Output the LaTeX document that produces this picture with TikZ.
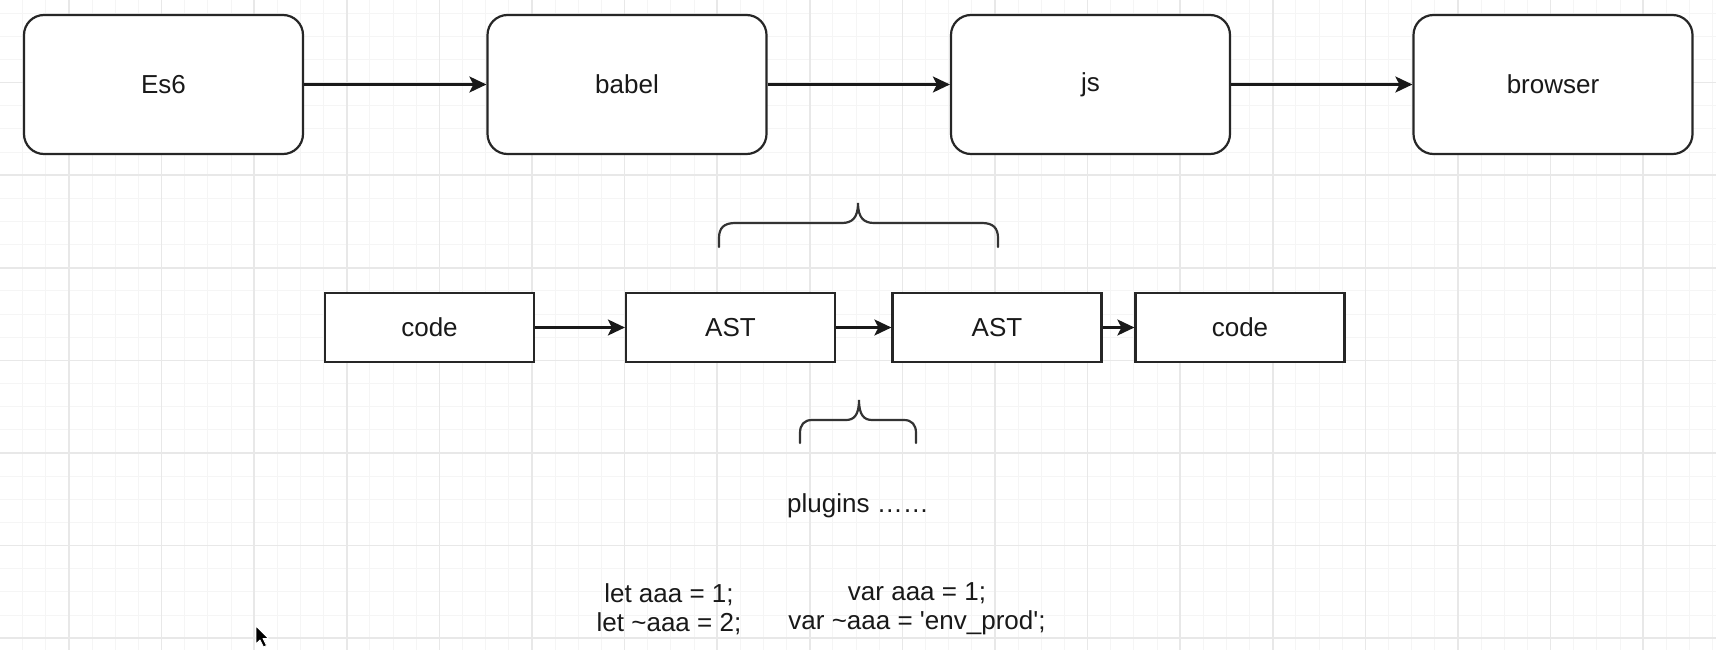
\documentclass[tikz,border=0pt]{standalone}
\usepackage{fontspec}
\setmainfont{Liberation Sans}
\usetikzlibrary{arrows.meta}
\begin{document}
\begin{tikzpicture}[x=1pt,y=-1pt,
  txt/.style={font=\fontsize{26}{28}\selectfont, text=black!90},
  rbox/.style={txt, draw=black!85, line width=2.2pt, rounded corners=20pt, minimum width=279pt, minimum height=139pt, inner sep=0pt, fill=white},
  sbox/.style={txt, draw=black!85, line width=2.2pt, minimum width=209pt, minimum height=69pt, inner sep=0pt, fill=white},
  conn/.style={line width=2.2pt, draw=black!90, -{Stealth[length=17pt, width=16pt, inset=4pt]}},
  bracepath/.style={line width=2.2pt, draw=black!80, line cap=round},
  plain/.style={txt, inner sep=0pt, align=center},
  gridminor/.style={draw=black!4, line width=1pt},
  gridmajor/.style={draw=black!9, line width=1.6pt}]
\useasboundingbox (0,0) rectangle (1716,650);
\fill[white] (0,0) rectangle (1716,650);
% grid
\foreach \i in {0,...,75} \draw[gridminor] ({-23.6+23.15*\i},0) -- ({-23.6+23.15*\i},650);
\foreach \i in {0,...,28} \draw[gridminor] (0,{-10+23.15*\i}) -- (1716,{-10+23.15*\i});
\foreach \i in {0,...,18} \draw[gridmajor] ({-23.6+92.6*\i},0) -- ({-23.6+92.6*\i},650);
\foreach \i in {0,...,7} \draw[gridmajor] (0,{-10+92.6*\i}) -- (1716,{-10+92.6*\i});
% top row
\node[rbox] (es6) at (163.5,84.5) {Es6};
\node[rbox] (babel) at (627,84.5) {babel};
\node[rbox] (js) at (1090.5,84.5) {js};
\node[rbox] (browser) at (1553,84.5) {browser};
\draw[conn] (es6) -- (babel);
\draw[conn] (babel) -- (js);
\draw[conn] (js) -- (browser);
% middle row
\node[sbox] (code1) at (429.5,327.5) {code};
\node[sbox] (ast1) at (730.5,327.5) {AST};
\node[sbox] (ast2) at (997,327.5) {AST};
\node[sbox] (code2) at (1240,327.5) {code};
\draw[conn] (code1) -- (ast1);
\draw[conn] (ast1) -- (ast2);
\draw[conn] (ast2) -- (code2);
% top brace
\draw[bracepath] (719,247) -- (719,238) .. controls (719,228) and (724,223) .. (735,223) -- (842,223) .. controls (852,223) and (858,218) .. (858,203)
  .. controls (858,218) and (864,223) .. (874,223) -- (982,223) .. controls (993,223) and (998,228) .. (998,238) -- (998,247);
% bottom brace
\draw[bracepath] (800,443) -- (800,433) .. controls (800,425) and (804,420) .. (812,420) -- (846,420) .. controls (854,420) and (859,415) .. (859,400)
  .. controls (859,415) and (864,420) .. (872,420) -- (904,420) .. controls (912,420) and (916,425) .. (916,433) -- (916,443);
% texts
\node[plain] (plugins) at (858,506) {plugins ……};
\node[plain] (letcode) at (669,609) {let aaa = 1;\\[1pt] let \textasciitilde aaa = 2;};
\node[plain] (varcode) at (917,609) {var aaa = 1;\\[1pt] var \textasciitilde aaa = \textquotesingle env\_prod\textquotesingle;};
% mouse pointer
\filldraw[fill=black, draw=white, line width=0.8pt, line join=round] (256,626) -- (256,644) -- (260,640) -- (263.5,647) -- (266.5,645.5) -- (263,638.5) -- (268.5,638.5) -- cycle;
\end{tikzpicture}
\end{document}
